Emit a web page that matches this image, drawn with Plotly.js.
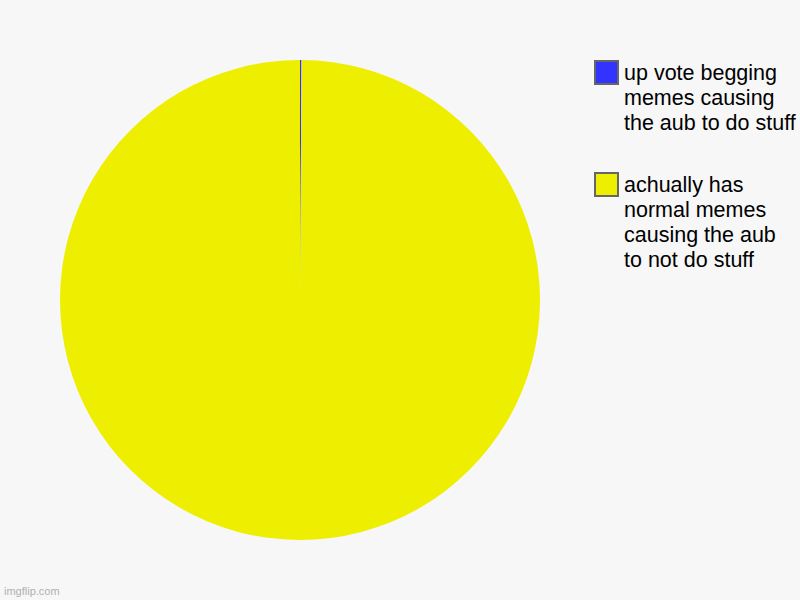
<!DOCTYPE html>
<html>
<head>
<meta charset="utf-8">
<script src="https://cdn.plot.ly/plotly-3.0.1.min.js"></script>
<style>
  body { margin: 0; background: #f7f7f7; }
  #myDiv { width: 800px; height: 600px; }
</style>
</head>
<body>
<div id="myDiv"></div>
<script>
// slice names (lines split with \n) and their values
var labels = [
	'up vote begging\nmemes causing\nthe aub to do stuff',
	'achually has\nnormal memes\ncausing the aub\nto not do stuff'
];
var values = [1, 1000];
var colors = ['#3333ff', '#eeee00'];

var W = 800, H = 600;

var pie = {
	type: 'pie',
	labels: labels.map(function(l) { return l.replace(/\n/g, ' '); }),
	values: values,
	sort: false,
	direction: 'clockwise',
	rotation: 0,
	textinfo: 'none',
	hoverinfo: 'label+percent',
	marker: { colors: colors, line: { color: '#bbbbbb', width: 0 } },
	domain: { x: [60 / W, 540 / W], y: [60 / H, 540 / H] }
};

// hand-made legend: big boxes and wrapped text, like the original
var shapes = [];
var annotations = [];
var rowTop = 61;
for (let i = 0; i < labels.length; i++) {
	var lines = labels[i].split('\n');
	shapes.push({
		type: 'rect', xref: 'paper', yref: 'paper',
		x0: 595 / W, x1: 618 / W,
		y0: 1 - rowTop / H, y1: 1 - (rowTop + 23) / H,
		fillcolor: colors[i],
		line: { color: '#666666', width: 2 }
	});
	for (let j = 0; j < lines.length; j++) {
		annotations.push({
			xref: 'paper', yref: 'paper',
			x: 622 / W, y: 1 - (rowTop + 12 + j * 25) / H,
			xanchor: 'left', yanchor: 'middle',
			text: lines[j], showarrow: false,
			font: { family: 'Liberation Sans, Arial, sans-serif', size: 21.5, color: '#000000' }
		});
	}
	rowTop += 112;
}

annotations.push({
	xref: 'paper', yref: 'paper', x: 2 / W, y: 1 - 591 / H,
	xanchor: 'left', yanchor: 'middle',
	text: 'imgflip.com', showarrow: false,
	font: { family: 'Liberation Sans, Arial, sans-serif', size: 11, color: '#b0b0b0' }
});

var layout = {
	width: W, height: H,
	margin: { l: 0, r: 0, t: 0, b: 0 },
	paper_bgcolor: '#f7f7f7',
	plot_bgcolor: '#f7f7f7',
	showlegend: false,
	shapes: shapes,
	annotations: annotations
};

Plotly.newPlot('myDiv', [pie], layout, { staticPlot: true });
</script>
</body>
</html>
